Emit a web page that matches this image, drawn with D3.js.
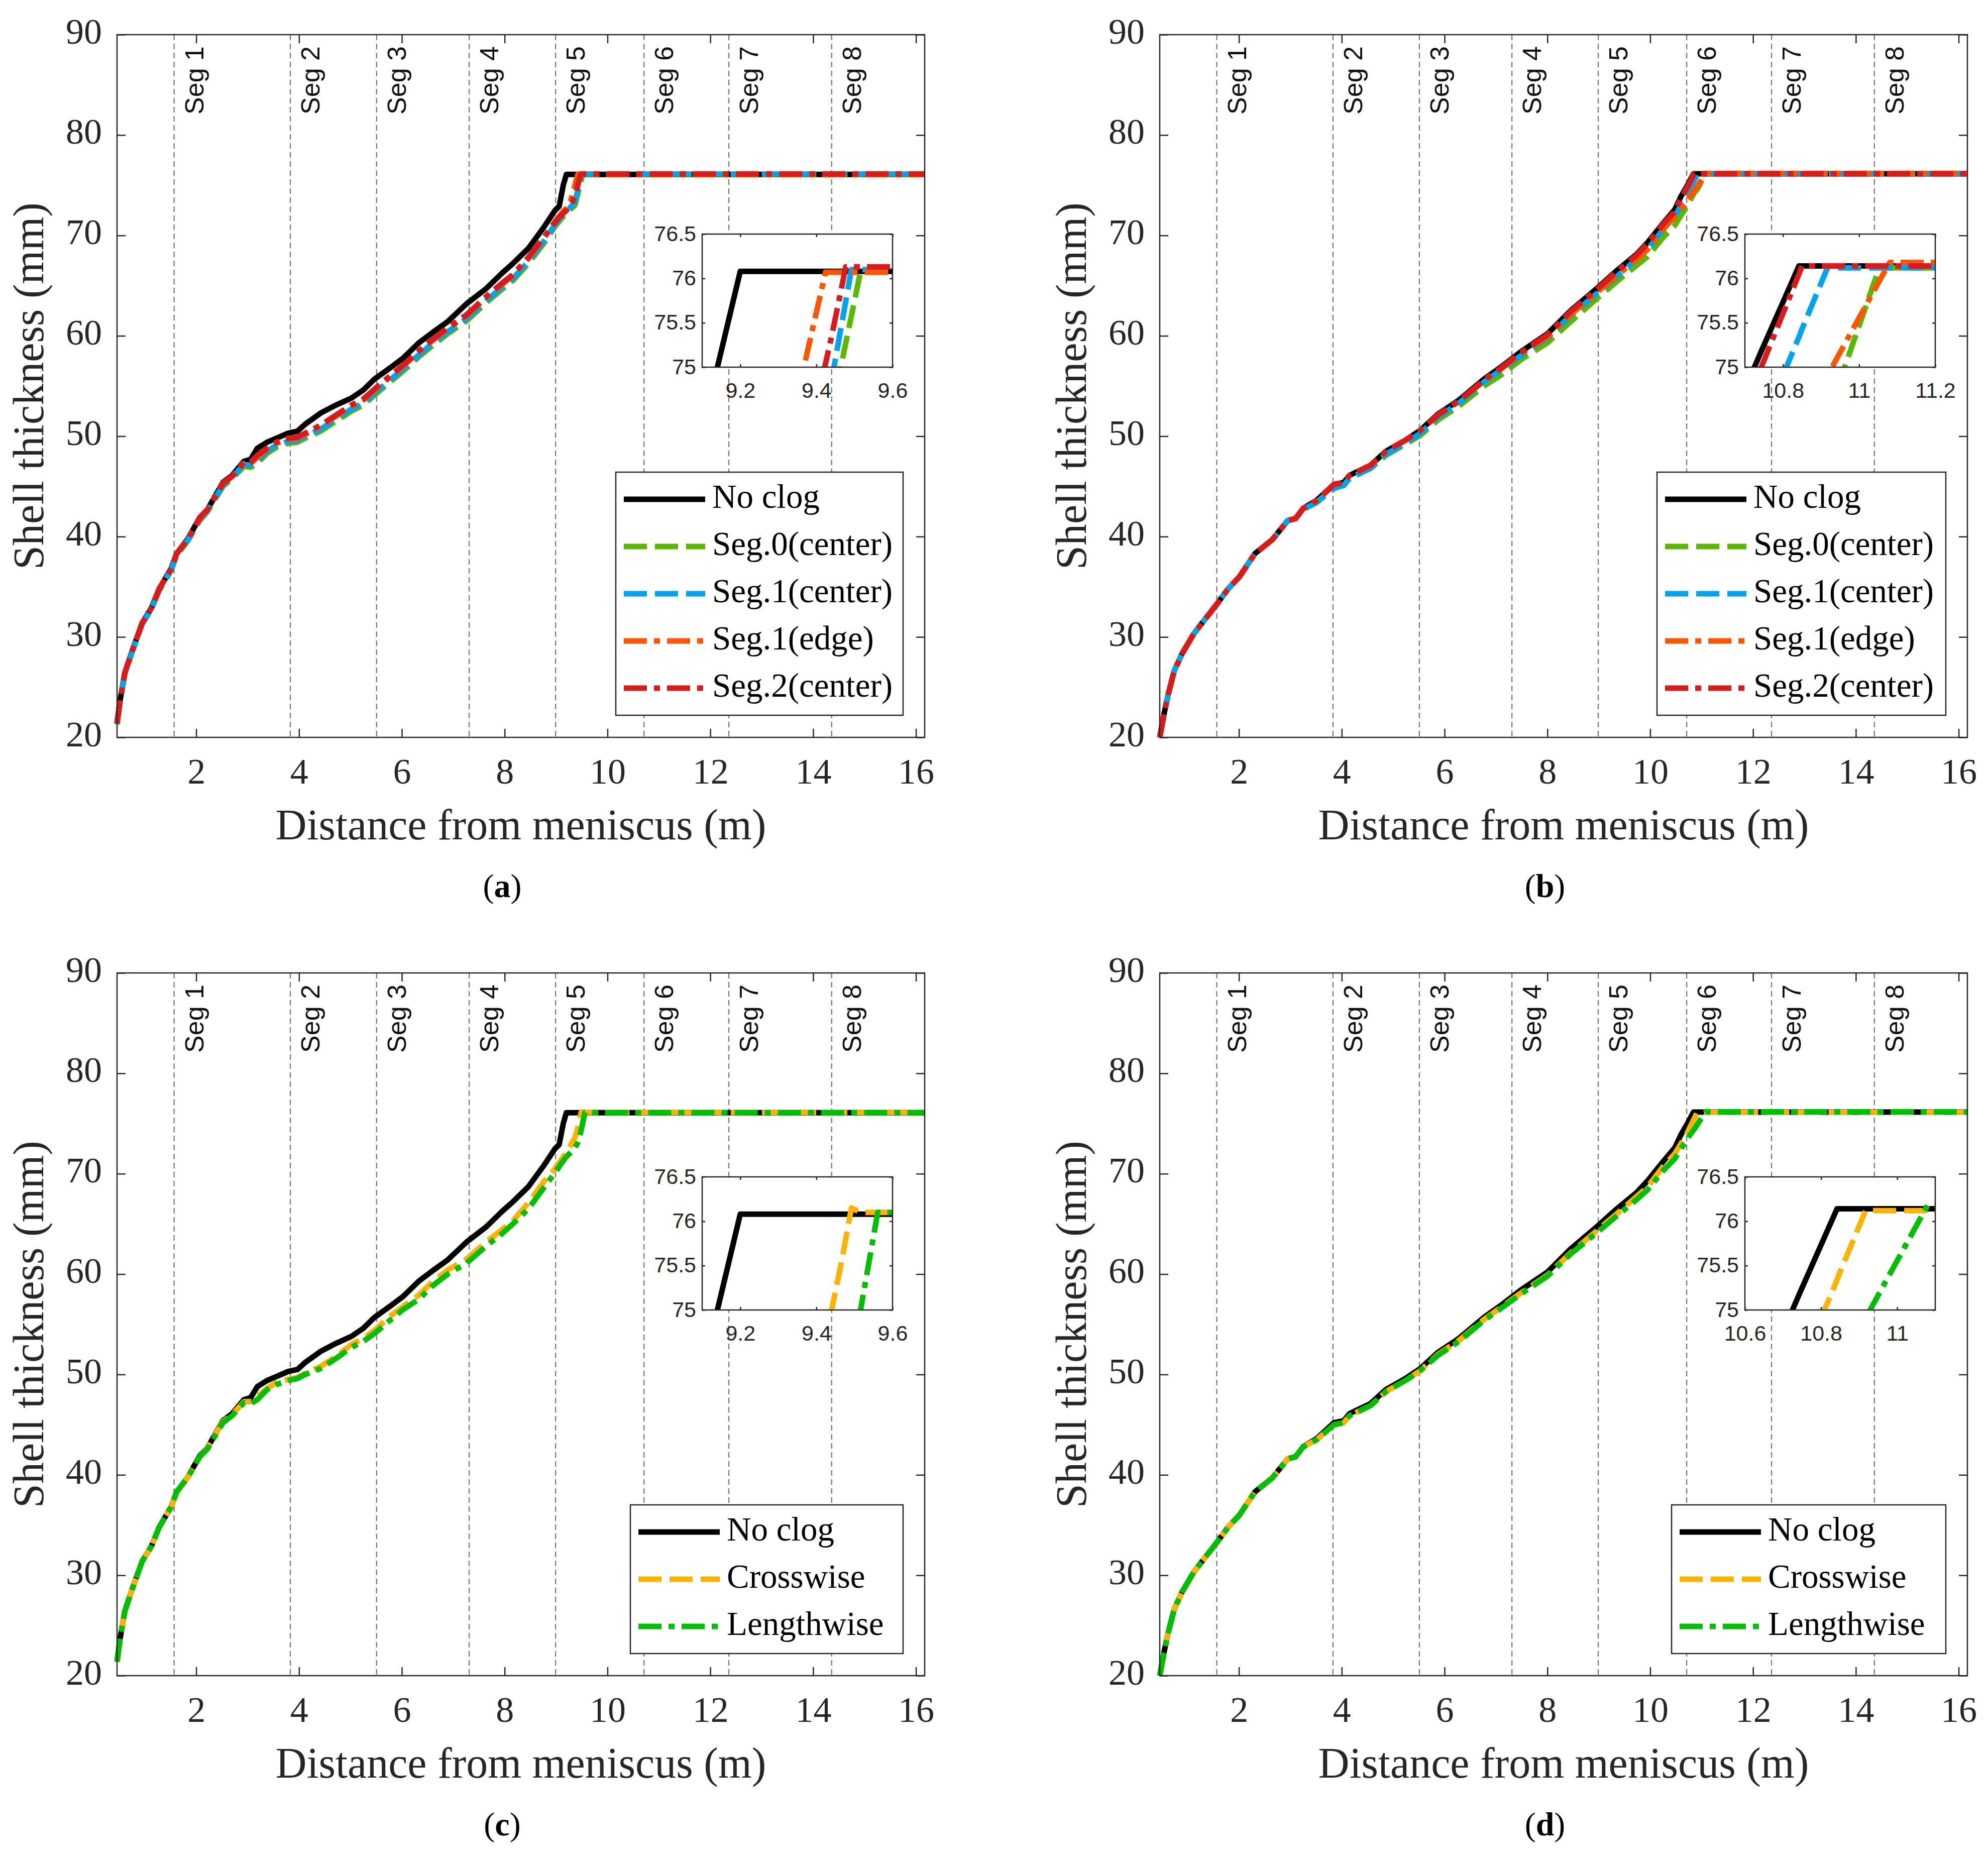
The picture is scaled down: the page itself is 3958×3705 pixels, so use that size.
<!DOCTYPE html>
<html lang="en">
<head>
<meta charset="UTF-8">
<title>Shell thickness vs distance from meniscus</title>
<script src="https://cdn.jsdelivr.net/npm/d3@7/dist/d3.min.js"></script>
<style>
  body { margin: 0; background: #fff; }
  svg { display: block; }
</style>
</head>
<body>
<div id="chart"></div>
<script>
"use strict";

// ---- data ----
// distance grid (m) shared by panels (a) and (c)
const distAC = [0.46, 0.52, 0.61, 0.76, 0.95, 1.13, 1.28, 1.51, 1.62, 1.84,
  2.07, 2.22, 2.52, 2.70, 2.93, 3.06, 3.19, 3.38, 3.56, 3.79,
  3.97, 4.12, 4.42, 4.72, 5.02, 5.25, 5.47, 5.77, 6.03, 6.33,
  6.59, 6.89, 7.26, 7.64, 7.94, 8.16, 8.46, 8.76, 8.98, 9.06,
  9.14, 9.20, 9.28, 9.367, 9.424, 9.44, 9.464, 9.477, 9.492, 9.516,
  9.561, 10.0, 16.17];

const noClogAC = [21.4, 23.7, 26.4, 28.7, 31.4, 32.9, 34.8, 36.8, 38.3, 39.8,
  41.9, 42.7, 45.4, 46.1, 47.5, 47.7, 48.8, 49.4, 49.8, 50.3,
  50.5, 51.2, 52.3, 53.1, 53.8, 54.6, 55.7, 56.8, 57.8, 59.3,
  60.3, 61.4, 63.2, 64.7, 66.2, 67.2, 68.7, 70.8, 72.5, 72.9,
  75.0, 76.08, 76.08, 76.08, 76.08, 76.08, 76.08, 76.08, 76.08, 76.08,
  76.08, 76.08, 76.08];

const seg0CenterA = [21.3, 23.6, 26.3, 28.6, 31.3, 32.8, 34.6, 36.6, 38.1, 39.6,
  41.6, 42.5, 45.0, 45.8, 47.0, 46.9, 47.3, 48.3, 48.9, 49.3,
  49.4, 49.8, 50.5, 51.5, 52.5, 53.1, 54.1, 55.4, 56.5, 57.9,
  59.0, 60.2, 61.5, 63.3, 64.6, 65.5, 67.2, 69.2, 70.9, 71.4,
  71.9, 72.2, 72.6, 73.0, 74.17, 74.5, 75.0, 75.27, 75.58, 76.08,
  76.08, 76.08, 76.08];

const seg1CenterA = [21.3, 23.6, 26.3, 28.6, 31.3, 32.8, 34.7, 36.7, 38.2, 39.7,
  41.7, 42.6, 45.1, 45.9, 47.2, 47.1, 47.6, 48.5, 49.1, 49.5,
  49.6, 50.0, 50.7, 51.7, 52.7, 53.3, 54.3, 55.6, 56.7, 58.1,
  59.2, 60.4, 61.7, 63.5, 64.8, 65.7, 67.4, 69.4, 71.1, 71.6,
  72.1, 72.4, 72.8, 73.4, 74.5, 74.85, 75.43, 75.74, 76.1, 76.1,
  76.1, 76.1, 76.1];

const seg1EdgeA = [21.4, 23.7, 26.4, 28.7, 31.4, 32.9, 34.8, 36.8, 38.3, 39.8,
  41.8, 42.7, 45.3, 46.0, 47.3, 47.3, 47.9, 48.7, 49.3, 49.7,
  49.8, 50.2, 51.0, 52.0, 53.0, 53.6, 54.6, 55.9, 57.0, 58.4,
  59.5, 60.7, 62.0, 63.8, 65.1, 66.0, 67.7, 69.7, 71.4, 71.9,
  72.4, 72.7, 73.4, 75.0, 76.07, 76.07, 76.07, 76.07, 76.07, 76.07,
  76.07, 76.07, 76.07];

const seg2CenterA = [21.4, 23.7, 26.4, 28.7, 31.4, 32.9, 34.8, 36.8, 38.3, 39.8,
  41.9, 42.7, 45.3, 46.0, 47.4, 47.4, 48.1, 48.8, 49.4, 49.8,
  49.9, 50.3, 51.1, 52.1, 53.1, 53.7, 54.7, 56.0, 57.1, 58.5,
  59.6, 60.8, 62.1, 63.9, 65.2, 66.1, 67.8, 69.8, 71.3, 71.8,
  72.2, 72.5, 72.9, 73.9, 75.04, 75.35, 75.85, 76.13, 76.13, 76.13,
  76.13, 76.13, 76.13];

const crosswiseC = [21.4, 23.7, 26.4, 28.7, 31.4, 32.9, 34.8, 36.8, 38.3, 39.8,
  41.8, 42.7, 45.3, 46.0, 47.3, 47.3, 47.8, 48.6, 49.2, 49.5,
  49.7, 50.1, 50.8, 51.8, 53.0, 53.6, 54.4, 55.8, 56.8, 57.9,
  59.2, 60.4, 61.5, 63.2, 64.4, 65.3, 67.1, 69.2, 70.5, 71.1,
  71.7, 72.1, 72.8, 73.6, 74.65, 75.0, 75.5, 75.8, 76.15, 76.1,
  76.1, 76.1, 76.1];

const lengthwiseC = [21.4, 23.7, 26.4, 28.7, 31.4, 32.9, 34.8, 36.8, 38.3, 39.8,
  41.8, 42.6, 45.2, 45.9, 47.2, 47.1, 47.5, 48.5, 49.0, 49.4,
  49.6, 50.0, 50.6, 51.6, 52.7, 53.3, 54.1, 55.4, 56.5, 57.5,
  58.8, 60.0, 61.1, 62.8, 64.0, 65.0, 66.5, 68.6, 70.1, 70.7,
  71.3, 71.7, 72.1, 72.6, 73.1, 73.3, 73.8, 74.1, 74.45, 75.0,
  76.1, 76.08, 76.08];

// distance grid (m) shared by panels (b) and (d)
const distBD = [0.46, 0.55, 0.62, 0.74, 0.89, 1.12, 1.30, 1.56, 1.79, 2.01,
  2.31, 2.65, 2.95, 3.10, 3.25, 3.51, 3.85, 4.04, 4.15, 4.56,
  4.86, 5.27, 5.53, 5.87, 6.28, 6.77, 7.10, 7.48, 8.00, 8.45,
  8.98, 9.35, 9.73, 9.95, 10.25, 10.48, 10.60, 10.725, 10.743, 10.809,
  10.842, 10.85, 10.917, 10.929, 10.962, 11.053, 11.08, 11.2, 16.17];

const noClogBD = [20.0, 22.5, 24.2, 26.6, 28.3, 30.3, 31.5, 33.2, 34.8, 36.0,
  38.3, 39.7, 41.6, 41.8, 42.8, 43.6, 45.2, 45.4, 46.1, 47.1,
  48.5, 49.7, 50.6, 52.2, 53.6, 55.7, 56.9, 58.4, 60.2, 62.5,
  64.8, 66.5, 68.1, 69.3, 71.2, 72.6, 73.9, 75.0, 75.18, 75.82,
  76.14, 76.14, 76.14, 76.14, 76.14, 76.14, 76.14, 76.14, 76.14];

const seg0CenterB = [20.0, 22.5, 24.2, 26.6, 28.3, 30.3, 31.5, 33.2, 34.8, 36.0,
  38.3, 39.7, 41.6, 41.8, 42.7, 43.4, 44.9, 45.1, 45.8, 46.8,
  48.1, 49.3, 50.1, 51.6, 53.0, 55.0, 56.1, 57.6, 59.3, 61.4,
  63.8, 65.4, 67.0, 67.9, 69.8, 71.0, 72.0, 73.0, 73.2, 73.8,
  74.1, 74.2, 74.6, 74.7, 75.0, 76.12, 76.12, 76.12, 76.12];

const seg1CenterB = [20.0, 22.5, 24.2, 26.6, 28.3, 30.3, 31.5, 33.2, 34.8, 36.0,
  38.3, 39.7, 41.6, 41.8, 42.7, 43.4, 44.8, 45.1, 45.8, 46.8,
  48.2, 49.4, 50.3, 51.9, 53.3, 55.4, 56.6, 58.0, 59.8, 62.0,
  64.3, 65.9, 67.6, 68.6, 70.6, 71.9, 73.0, 74.1, 74.3, 75.0,
  75.34, 75.43, 76.12, 76.12, 76.12, 76.12, 76.12, 76.12, 76.12];

const seg1EdgeB = [20.0, 22.5, 24.2, 26.6, 28.3, 30.3, 31.5, 33.2, 34.8, 36.0,
  38.3, 39.7, 41.6, 41.8, 42.8, 43.6, 45.2, 45.4, 46.1, 47.1,
  48.5, 49.7, 50.6, 52.1, 53.5, 55.5, 56.7, 58.2, 59.9, 62.1,
  64.4, 66.0, 67.6, 68.6, 70.6, 71.9, 72.6, 73.5, 73.65, 74.1,
  74.35, 74.4, 74.9, 75.0, 75.26, 75.97, 76.18, 76.18, 76.18];

const seg2CenterB = [20.0, 22.5, 24.2, 26.6, 28.3, 30.3, 31.5, 33.2, 34.8, 36.0,
  38.3, 39.7, 41.6, 41.8, 42.8, 43.6, 45.2, 45.4, 46.1, 47.1,
  48.5, 49.7, 50.6, 52.1, 53.5, 55.6, 56.8, 58.3, 60.1, 62.4,
  64.7, 66.4, 68.0, 69.2, 71.1, 72.4, 73.7, 74.83, 75.0, 75.7,
  76.05, 76.14, 76.14, 76.14, 76.14, 76.14, 76.14, 76.14, 76.14];

const crosswiseD = [20.0, 22.5, 24.2, 26.6, 28.3, 30.3, 31.5, 33.2, 34.8, 36.0,
  38.3, 39.7, 41.6, 41.8, 42.8, 43.5, 45.0, 45.2, 45.9, 46.9,
  48.3, 49.5, 50.4, 52.0, 53.4, 55.5, 56.7, 58.1, 59.9, 62.1,
  64.4, 66.0, 67.7, 68.7, 70.7, 72.0, 73.0, 74.1, 74.3, 75.0,
  75.34, 75.43, 76.12, 76.12, 76.12, 76.12, 76.12, 76.12, 76.12];

const lengthwiseD = [20.0, 22.5, 24.2, 26.6, 28.3, 30.3, 31.5, 33.2, 34.8, 36.0,
  38.3, 39.7, 41.6, 41.8, 42.8, 43.5, 45.0, 45.2, 45.9, 46.9,
  48.3, 49.5, 50.4, 51.9, 53.3, 55.4, 56.6, 58.0, 59.8, 62.0,
  64.2, 65.8, 67.4, 68.4, 70.3, 71.5, 72.5, 73.5, 73.65, 74.1,
  74.35, 74.4, 74.9, 75.0, 75.26, 75.97, 76.18, 76.16, 76.16];

// segment boundaries (m) and their labels
const segPos = [1.57, 3.83, 5.51, 7.31, 8.99, 10.71, 12.36, 14.36];
const segLabels = ["Seg 1", "Seg 2", "Seg 3", "Seg 4", "Seg 5", "Seg 6", "Seg 7", "Seg 8"];

// axes
const xDomain = [0.46, 16.17];
const yDomain = [20, 90];
const xTicks = [2, 4, 6, 8, 10, 12, 14, 16];
const yTicks = [20, 30, 40, 50, 60, 70, 80, 90];
const insetYDomain = [75, 76.5];
const insetYTicks = [75, 75.5, 76, 76.5];
const insetXDomainAC = [9.1, 9.6];
const insetXTicksAC = [9.2, 9.4, 9.6];
const insetXDomainB = [10.7, 11.2];
const insetXTicksB = [10.8, 11, 11.2];
const insetXDomainD = [10.6, 11.1];
const insetXTicksD = [10.6, 10.8, 11];

const legendLabelsAB = ["No clog", "Seg.0(center)", "Seg.1(center)", "Seg.1(edge)", "Seg.2(center)"];
const legendLabelsCD = ["No clog", "Crosswise", "Lengthwise"];
const panelLetters = ["a", "b", "c", "d"];

// ---- layout ----
const W = 3958, H = 3705;
const plotW = 1608, plotH = 1399;
const axisColor = "#262626";
const lineW = 11;
const serif = '"Liberation Serif", "Times New Roman", serif';
const sans = '"Liberation Sans", Arial, sans-serif';
const dashes = { solid: null, dashed: "46,16", dashdot: "46,14,12,14" };

const cBlack = "#000000", cGreen = "#5BB800", cBlue = "#00A4EE",
      cOrange = "#FF5500", cRed = "#DA1B1B", cAmber = "#FFB300", cLime = "#00BE00";

const panels = [
  { left: 233, top: 69, dist: distAC, insetX: insetXDomainAC, insetTicks: insetXTicksAC, insetTop: 397, legendW: 572,
    series: [
      { name: legendLabelsAB[0], values: noClogAC, color: cBlack, dash: "solid" },
      { name: legendLabelsAB[1], values: seg0CenterA, color: cGreen, dash: "dashed" },
      { name: legendLabelsAB[2], values: seg1CenterA, color: cBlue, dash: "dashed" },
      { name: legendLabelsAB[3], values: seg1EdgeA, color: cOrange, dash: "dashdot" },
      { name: legendLabelsAB[4], values: seg2CenterA, color: cRed, dash: "dashdot" }
    ] },
  { left: 2309, top: 69, dist: distBD, insetX: insetXDomainB, insetTicks: insetXTicksB, insetTop: 397, legendW: 575,
    series: [
      { name: legendLabelsAB[0], values: noClogBD, color: cBlack, dash: "solid" },
      { name: legendLabelsAB[1], values: seg0CenterB, color: cGreen, dash: "dashed" },
      { name: legendLabelsAB[2], values: seg1CenterB, color: cBlue, dash: "dashed" },
      { name: legendLabelsAB[3], values: seg1EdgeB, color: cOrange, dash: "dashdot" },
      { name: legendLabelsAB[4], values: seg2CenterB, color: cRed, dash: "dashdot" }
    ] },
  { left: 233, top: 1937, dist: distAC, insetX: insetXDomainAC, insetTicks: insetXTicksAC, insetTop: 406, legendW: 543,
    series: [
      { name: legendLabelsCD[0], values: noClogAC, color: cBlack, dash: "solid" },
      { name: legendLabelsCD[1], values: crosswiseC, color: cAmber, dash: "dashed" },
      { name: legendLabelsCD[2], values: lengthwiseC, color: cLime, dash: "dashdot" }
    ] },
  { left: 2309, top: 1937, dist: distBD, insetX: insetXDomainD, insetTicks: insetXTicksD, insetTop: 406, legendW: 546,
    series: [
      { name: legendLabelsCD[0], values: noClogBD, color: cBlack, dash: "solid" },
      { name: legendLabelsCD[1], values: crosswiseD, color: cAmber, dash: "dashed" },
      { name: legendLabelsCD[2], values: lengthwiseD, color: cLime, dash: "dashdot" }
    ] }
];

const svg = d3.select("#chart").append("svg")
  .attr("width", W).attr("height", H);
svg.append("rect").attr("width", W).attr("height", H).attr("fill", "#fff");

function styleAxis(a, fontFamily, fontSize) {
  a.select(".domain").remove();
  a.selectAll("line").attr("stroke", axisColor).attr("stroke-width", 2.5);
  a.selectAll("text").attr("font-family", fontFamily).attr("font-size", fontSize)
    .attr("fill", axisColor).attr("dy", null);
}

panels.forEach(function(p, pi) {
  const g = svg.append("g").attr("transform", `translate(${p.left},${p.top})`);
  const x = d3.scaleLinear().domain(xDomain).range([0, plotW]);
  const y = d3.scaleLinear().domain(yDomain).range([plotH, 0]);

  // segment boundaries
  g.selectAll("line.seg").data(segPos).join("line")
    .attr("class", "seg")
    .attr("x1", d => x(d)).attr("x2", d => x(d))
    .attr("y1", 0).attr("y2", plotH)
    .attr("stroke", "#7a7a7a").attr("stroke-width", 2.3)
    .attr("stroke-dasharray", "11,7");
  g.selectAll("text.seg").data(segLabels).join("text")
    .attr("class", "seg")
    .attr("transform", (d, i) => `translate(${x(segPos[i]) + 58},23) rotate(-90)`)
    .attr("text-anchor", "end")
    .attr("font-family", sans).attr("font-size", 52).attr("fill", "#111")
    .text(d => d);

  // axes, ticks pointing inward on all four sides
  g.append("g").attr("transform", `translate(0,${plotH})`)
    .call(d3.axisBottom(x).tickValues(xTicks).tickSizeInner(-17).tickSizeOuter(0).tickPadding(0))
    .call(a => styleAxis(a, serif, 72))
    .call(a => a.selectAll("text").attr("y", 92));
  g.append("g")
    .call(d3.axisTop(x).tickValues(xTicks).tickSizeInner(-17).tickSizeOuter(0).tickFormat(""))
    .call(a => styleAxis(a, serif, 72));
  g.append("g")
    .call(d3.axisLeft(y).tickValues(yTicks).tickSizeInner(-17).tickSizeOuter(0).tickPadding(0))
    .call(a => styleAxis(a, serif, 72))
    .call(a => a.selectAll("text").attr("x", -30).attr("y", 17));
  g.append("g").attr("transform", `translate(${plotW},0)`)
    .call(d3.axisRight(y).tickValues(yTicks).tickSizeInner(-17).tickSizeOuter(0).tickFormat(""))
    .call(a => styleAxis(a, serif, 72));

  // curves
  const line = d3.line().x(d => x(d[0])).y(d => y(d[1]));
  g.selectAll("path.curve").data(p.series).join("path")
    .attr("class", "curve")
    .attr("d", s => line(d3.zip(p.dist, s.values)))
    .attr("fill", "none").attr("stroke", s => s.color).attr("stroke-width", lineW)
    .attr("stroke-linejoin", "round")
    .attr("stroke-dasharray", s => dashes[s.dash]);

  g.append("rect").attr("width", plotW).attr("height", plotH)
    .attr("fill", "none").attr("stroke", axisColor).attr("stroke-width", 2.5);

  // inset
  const insetW = 379, insetH = 265, insetLeft = 1165;
  const ig = g.append("g").attr("transform", `translate(${insetLeft},${p.insetTop})`);
  const ix = d3.scaleLinear().domain(p.insetX).range([0, insetW]);
  const iy = d3.scaleLinear().domain(insetYDomain).range([insetH, 0]);
  const clipId = "clip" + pi;
  ig.append("clipPath").attr("id", clipId).append("rect").attr("width", insetW).attr("height", insetH);
  ig.append("rect").attr("width", insetW).attr("height", insetH).attr("fill", "#fff");
  const iline = d3.line().x(d => ix(d[0])).y(d => iy(d[1]));
  ig.append("g").attr("clip-path", `url(#${clipId})`)
    .selectAll("path").data(p.series).join("path")
    .attr("d", s => iline(d3.zip(p.dist, s.values)))
    .attr("fill", "none").attr("stroke", s => s.color).attr("stroke-width", lineW)
    .attr("stroke-linejoin", "round")
    .attr("stroke-dasharray", s => dashes[s.dash]);
  ig.append("g").attr("transform", `translate(0,${insetH})`)
    .call(d3.axisBottom(ix).tickValues(p.insetTicks).tickSizeInner(-6).tickSizeOuter(0).tickFormat(d3.format("~")))
    .call(a => styleAxis(a, sans, 43))
    .call(a => a.selectAll("text").attr("y", 61));
  ig.append("g")
    .call(d3.axisTop(ix).tickValues(p.insetTicks).tickSizeInner(-6).tickSizeOuter(0).tickFormat(""))
    .call(a => styleAxis(a, sans, 43));
  ig.append("g")
    .call(d3.axisLeft(iy).tickValues(insetYTicks).tickSizeInner(-6).tickSizeOuter(0).tickFormat(d3.format("~")))
    .call(a => styleAxis(a, sans, 43))
    .call(a => a.selectAll("text").attr("x", -12).attr("y", 13));
  ig.append("g").attr("transform", `translate(${insetW},0)`)
    .call(d3.axisRight(iy).tickValues(insetYTicks).tickSizeInner(-6).tickSizeOuter(0).tickFormat(""))
    .call(a => styleAxis(a, sans, 43));
  ig.append("rect").attr("width", insetW).attr("height", insetH)
    .attr("fill", "none").attr("stroke", axisColor).attr("stroke-width", 2.5);

  // legend
  const rowH = 94, pad = 54;
  const legH = pad * 2 + rowH * (p.series.length - 1);
  const lg = g.append("g")
    .attr("transform", `translate(${plotW - 43 - p.legendW},${plotH - 44 - legH})`);
  lg.append("rect").attr("width", p.legendW).attr("height", legH)
    .attr("fill", "#fff").attr("stroke", axisColor).attr("stroke-width", 2.5);
  const rows = lg.selectAll("g.row").data(p.series).join("g")
    .attr("class", "row")
    .attr("transform", (d, i) => `translate(0,${pad + i * rowH})`);
  rows.append("line")
    .attr("x1", 16).attr("x2", 178)
    .attr("stroke", d => d.color).attr("stroke-width", lineW)
    .attr("stroke-dasharray", d => dashes[d.dash]);
  rows.append("text")
    .attr("x", 192).attr("y", 17)
    .attr("font-family", serif).attr("font-size", 67).attr("fill", "#000")
    .text(d => d.name);

  // axis titles
  g.append("text")
    .attr("x", plotW / 2).attr("y", plotH + 203)
    .attr("text-anchor", "middle")
    .attr("font-family", serif).attr("font-size", 86).attr("fill", axisColor)
    .text("Distance from meniscus (m)");
  g.append("text")
    .attr("transform", `translate(-147,${plotH / 2}) rotate(-90)`)
    .attr("text-anchor", "middle")
    .attr("font-family", serif).attr("font-size", 86).attr("fill", axisColor)
    .text("Shell thickness (mm)");

  // panel letter
  const lab = g.append("text")
    .attr("x", plotW / 2 - 37).attr("y", plotH + 318)
    .attr("text-anchor", "middle")
    .attr("font-family", serif).attr("font-size", 66).attr("fill", "#000");
  lab.append("tspan").text("(");
  lab.append("tspan").attr("font-weight", "bold").text(panelLetters[pi]);
  lab.append("tspan").text(")");
});
</script>
</body>
</html>
